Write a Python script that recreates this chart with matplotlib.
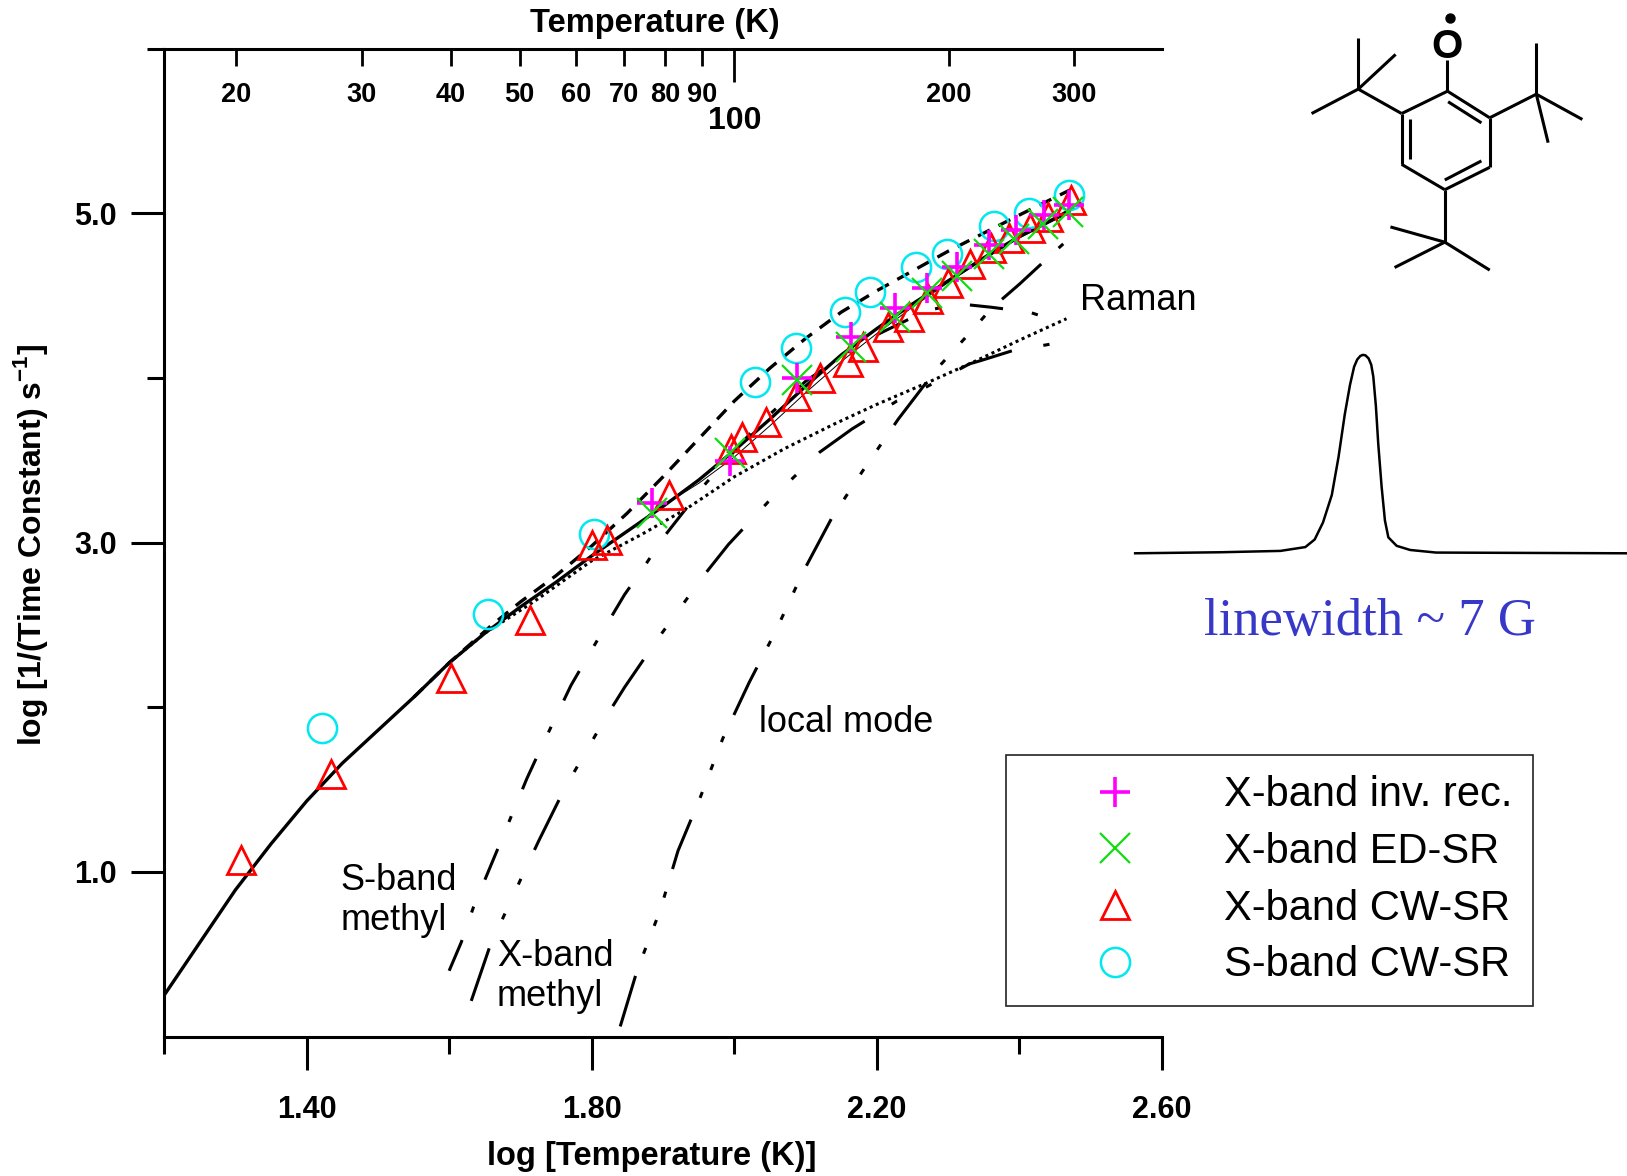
import numpy as np
import matplotlib
matplotlib.use("Agg")
import matplotlib.pyplot as plt

# ---- values: x = log10 T, y = log10(1/T1) ----
inv_rec_x = [1.884, 1.9945, 2.088, 2.164, 2.225, 2.270, 2.313, 2.358, 2.395, 2.435, 2.470]
inv_rec_y = [3.243, 3.495, 3.999, 4.252, 4.423, 4.544, 4.675, 4.806, 4.897, 4.987, 5.048]

edsr_x = [1.884, 1.9945, 2.088, 2.164, 2.225, 2.270, 2.313, 2.358, 2.393, 2.433, 2.468]
edsr_y = [3.182, 3.546, 3.990, 4.191, 4.373, 4.514, 4.621, 4.756, 4.847, 4.937, 5.008]

xcw_x = [1.308, 1.434, 1.602, 1.714, 1.801, 1.822, 1.908, 1.995, 2.011, 2.045, 2.086, 2.120,
         2.160, 2.180, 2.215, 2.245, 2.272, 2.300, 2.330, 2.360, 2.385, 2.415, 2.440, 2.472]
xcw_y = [1.07, 1.593, 2.179, 2.528, 2.984, 3.016, 3.29, 3.566, 3.643, 3.735, 3.888, 4.00,
         4.10, 4.19, 4.31, 4.37, 4.48, 4.58, 4.69, 4.79, 4.85, 4.91, 4.98, 5.08]

scw_x = [1.422, 1.655, 1.803, 2.029, 2.086, 2.156, 2.190, 2.2555, 2.299, 2.364, 2.414, 2.470]
scw_y = [1.877, 2.565, 3.05, 3.973, 4.181, 4.403, 4.520, 4.675, 4.756, 4.923, 5.004, 5.109]

# fit curves
xfit_x = [1.20, 1.25, 1.30, 1.35, 1.40, 1.45, 1.50, 1.55, 1.60, 1.65, 1.70, 1.75, 1.80, 1.85,
          1.90, 1.95, 2.00, 2.05, 2.10, 2.15, 2.20, 2.25, 2.30, 2.35, 2.40, 2.45, 2.475]
xfit_y = [0.25, 0.57, 0.89, 1.17, 1.43, 1.66, 1.86, 2.06, 2.27, 2.45, 2.61, 2.76, 2.92, 3.07,
          3.22, 3.38, 3.56, 3.75, 3.95, 4.14, 4.30, 4.45, 4.59, 4.73, 4.86, 4.97, 5.03]

thin_x = [1.88, 1.95, 2.00, 2.05, 2.10, 2.15, 2.20, 2.25, 2.30, 2.35, 2.40, 2.45, 2.47]
thin_y = [3.17, 3.36, 3.52, 3.71, 3.91, 4.10, 4.27, 4.43, 4.58, 4.72, 4.85, 4.96, 5.00]

sfit_x = [1.55, 1.60, 1.66, 1.70, 1.75, 1.80, 1.85, 1.90, 1.95, 2.00, 2.05, 2.10, 2.15,
          2.20, 2.25, 2.30, 2.35, 2.40, 2.47]
sfit_y = [2.06, 2.27, 2.50, 2.64, 2.80, 2.98, 3.18, 3.40, 3.63, 3.86, 4.06, 4.24, 4.40,
          4.53, 4.65, 4.77, 4.88, 4.99, 5.14]

raman_x = [1.60, 1.65, 1.72, 1.80, 1.87, 1.934, 2.00, 2.07, 2.14, 2.20, 2.27, 2.335, 2.40, 2.466]
raman_y = [2.27, 2.45, 2.645, 2.89, 3.05, 3.209, 3.40, 3.57, 3.72, 3.84, 3.97, 4.096, 4.23, 4.36]

smethyl_x = [1.600, 1.617, 1.634, 1.672, 1.709, 1.729, 1.771, 1.797, 1.846, 1.874, 1.903,
             1.960, 2.03, 2.10, 2.18, 2.27, 2.316, 2.36, 2.414, 2.46]
smethyl_y = [0.40, 0.573, 0.785, 1.18, 1.567, 1.755, 2.134, 2.328, 2.684, 2.857, 3.045,
             3.36, 3.70, 3.98, 4.22, 4.41, 4.45, 4.43, 4.40, 4.335]

xmethyl_x = [1.631, 1.657, 1.705, 1.726, 1.763, 1.820, 1.846, 1.893, 1.958, 1.992, 2.048,
             2.12, 2.165, 2.228, 2.264, 2.330, 2.346, 2.391, 2.47]
xmethyl_y = [0.217, 0.547, 0.999, 1.192, 1.515, 1.941, 2.121, 2.418, 2.805, 2.99, 3.25,
             3.55, 3.69, 3.86, 3.933, 4.086, 4.106, 4.167, 4.225]

local_x = [1.840, 1.864, 1.896, 1.921, 1.952, 1.984, 2.021, 2.058, 2.096, 2.137, 2.18,
           2.23, 2.283, 2.338, 2.36, 2.40, 2.44, 2.473]
local_y = [0.062, 0.406, 0.767, 1.128, 1.45, 1.812, 2.152, 2.462, 2.818, 3.152, 3.435,
           3.75, 4.05, 4.31, 4.42, 4.57, 4.73, 4.86]

bottom_major = [1.40, 1.80, 2.20, 2.60]
bottom_minor = [1.20, 1.60, 2.00, 2.40]
left_major = [1.0, 3.0, 5.0]
left_minor = [2.0, 4.0, 6.0]
top_T_minor = [20, 30, 40, 50, 60, 70, 80, 90, 200, 300]
top_T_major = [100]

legend_labels = ['X-band inv. rec.', 'X-band ED-SR', 'X-band CW-SR', 'S-band CW-SR']

# inset drawing, in pixel units of a 1568 x 1135 canvas
spec_x = [1094, 1176, 1234, 1258, 1267, 1275, 1283.5, 1290, 1296, 1301, 1305, 1308, 1311,
          1313.5, 1316, 1319, 1321.5, 1323.5, 1326, 1328.3, 1331.5, 1334.7, 1338, 1346,
          1359, 1384, 1567]
spec_y = [534, 533, 531.7, 528, 520.7, 504.3, 477.8, 441, 400, 371.7, 354, 347, 343.5,
          342.5, 343, 346, 352, 363.5, 392, 428.8, 469.6, 502.3, 518.6, 526.8, 530.8,
          533.3, 534]

atom_x = [1395, 1435.7, 1435.7, 1392.4, 1350.8, 1350.8, 1395, 1309, 1309, 1345, 1264,
          1480.6, 1480.6, 1525, 1492, 1392.4, 1340, 1344, 1435.7]
atom_y = [88, 113.7, 161.5, 183.1, 158.6, 109.6, 58, 86, 37, 52.5, 109.6,
          90.9, 41.9, 115.3, 137.7, 233.7, 219, 258.2, 260.7]
bonds = [(0, 1), (1, 2), (2, 3), (3, 4), (4, 5), (5, 0), (0, 6), (5, 7), (7, 8), (7, 9),
         (7, 10), (1, 11), (11, 12), (11, 13), (11, 14), (3, 15), (15, 16), (15, 17), (15, 18)]
inner_bonds = [((1358.8, 114.5), (1358.8, 153.3)),
               ((1395.6, 98.2), (1427.7, 118.6)),
               ((1392.4, 173.7), (1427.7, 155.3))]

plt.rcParams['font.family'] = ['Liberation Sans', 'DejaVu Sans']
plt.rcParams['mathtext.fontset'] = 'custom'
plt.rcParams['mathtext.rm'] = 'Liberation Sans'
plt.rcParams['mathtext.bf'] = 'Liberation Sans:bold'
plt.rcParams['lines.scale_dashes'] = False

magenta = '#ff00ff'
green = '#11dd11'
red = '#ff0000'
cyan = '#00e8f0'

fig = plt.figure(figsize=(16.27, 11.76), dpi=100)
ax = fig.add_axes([0.1008, 0.1185, 0.6134, 0.8401])
ax.patch.set_visible(False)
ax.set_xlim(1.2, 2.6)
ax.set_ylim(0, 6)

# model curves
ax.plot(raman_x, raman_y, color='k', lw=2.2, ls=(0, (2.2, 2.6)), zorder=2)
ax.plot(smethyl_x, smethyl_y, color='k', lw=2.2, ls=(0, (24, 21, 4.5, 21)), zorder=2)
ax.plot(xmethyl_x, xmethyl_y, color='k', lw=2.2, ls=(0, (40, 23, 4.5, 23, 4.5, 23)), zorder=2)
ax.plot(local_x, local_y, color='k', lw=2.2,
        ls=(0, (38, 17, 4.5, 17, 4.5, 17, 4.5, 17)), zorder=2)
ax.plot(sfit_x, sfit_y, color='k', lw=2.4, ls=(0, (9.5, 7)), zorder=2)
ax.plot(xfit_x, xfit_y, color='k', lw=2.4, zorder=2)
ax.plot(thin_x, thin_y, color='k', lw=0.7, zorder=2)

# data
h_s, = ax.plot(scw_x, scw_y, ls='none', marker='o', ms=21, mfc='none', mec=cyan, mew=1.8, zorder=3)
h_t, = ax.plot(xcw_x, xcw_y, ls='none', marker='^', ms=20, mfc='none', mec=red, mew=2.0, zorder=3)
h_p, = ax.plot(inv_rec_x, inv_rec_y, ls='none', marker='+', ms=21, mec=magenta, mew=2.6, zorder=3)
h_x, = ax.plot(edsr_x, edsr_y, ls='none', marker='x', ms=21, mec=green, mew=1.6, zorder=3)

# annotations
txt = dict(fontsize=26, color='k', ha='left', va='center')
ax.text(2.4856, 4.47, 'Raman', **txt)
ax.text(2.035, 1.905, 'local mode', **txt)
ax.text(1.448, 0.825, 'S-band\nmethyl', **txt)
ax.text(1.667, 0.365, 'X-band\nmethyl', **txt)

# axes styling
for s in ['left', 'bottom']:
    ax.spines[s].set_linewidth(2.2)
ax.spines['right'].set_visible(False)
ax.spines['top'].set_visible(False)

ax.set_xticks(bottom_major, labels=['%.2f' % v for v in bottom_major])
ax.set_xticks(bottom_minor, minor=True)
ax.set_yticks(left_major, labels=['%.1f' % v for v in left_major])
ax.set_yticks(left_minor, minor=True)
ax.tick_params(which='major', length=24, width=2.2, labelsize=22)
ax.tick_params(which='minor', length=12, width=2.2)
ax.tick_params(axis='x', which='major', pad=18)
ax.tick_params(axis='y', which='major', pad=10)
for lab in ax.get_xticklabels() + ax.get_yticklabels():
    lab.set_fontweight('bold')

ax.set_xlabel('log [Temperature (K)]', fontsize=23.5, fontweight='bold')
ax.xaxis.set_label_coords(0.4885, -0.121)
ax.xaxis.label.set_verticalalignment('center')
ax.set_ylabel(r'log [1/(Time Constant) s$^{\mathbf{-1}}$]', fontsize=23, fontweight='bold')
ax.yaxis.set_label_coords(-0.1333, 0.498)
ax.yaxis.label.set_verticalalignment('center')

# top temperature axis
ax2 = ax.twiny()
ax2.patch.set_visible(False)
ax2.set_xlim(ax.get_xlim())
for s in ['left', 'right', 'bottom']:
    ax2.spines[s].set_visible(False)
ax2.spines['top'].set_linewidth(2.2)
ax2.set_xticks(np.log10(top_T_major), labels=[str(t) for t in top_T_major])
ax2.set_xticks(np.log10(top_T_minor), labels=[str(t) for t in top_T_minor], minor=True)
ax2.tick_params(axis='x', which='both', direction='in', width=2.0)
ax2.tick_params(axis='x', which='minor', length=12, pad=-42.5, labelsize=19.5)
ax2.tick_params(axis='x', which='major', length=24, pad=-63, labelsize=23)
for lab in ax2.get_xticklabels() + ax2.get_xticklabels(minor=True):
    lab.set_fontweight('bold')
ax2.set_xlabel('Temperature (K)', fontsize=23.5, fontweight='bold')
ax2.xaxis.set_label_coords(0.4915, 1.025)
ax2.xaxis.label.set_verticalalignment('center')

leg = ax.legend([h_p, h_x, h_t, h_s], legend_labels, loc='upper left',
                bbox_to_anchor=(1006 / 1627, 1 - 755 / 1176), bbox_transform=fig.transFigure,
                borderaxespad=0, fontsize=30, numpoints=1, frameon=True, fancybox=False,
                edgecolor='#222222', framealpha=1, borderpad=0.49, handlelength=4.25,
                handletextpad=0.49, labelspacing=0.4)
leg.get_frame().set_linewidth(1.2)

# molecule and EPR line on the right
deco = fig.add_axes([0, 0, 1, 1], zorder=5)
deco.set_xlim(0, 1568)
deco.set_ylim(1135, 0)
deco.axis('off')
deco.patch.set_visible(False)
deco.plot(spec_x, spec_y, color='k', lw=1.8, solid_joinstyle='round')
for i, j in bonds:
    deco.plot([atom_x[i], atom_x[j]], [atom_y[i], atom_y[j]], color='k', lw=2.2,
              solid_capstyle='butt')
for (xa, ya), (xb, yb) in inner_bonds:
    deco.plot([xa, xb], [ya, yb], color='k', lw=2.2, solid_capstyle='butt')
deco.text(1395, 45, 'O', fontsize=29, fontweight='bold', ha='center', va='center')
deco.plot([1397], [17], marker='o', ms=6.5, color='k')
deco.text(1320, 600, 'linewidth ~ 7 G', fontsize=38, color='#3838c8', ha='center',
          va='center', family=['Liberation Serif', 'DejaVu Serif'])

fig.savefig('out.png', dpi=100)
